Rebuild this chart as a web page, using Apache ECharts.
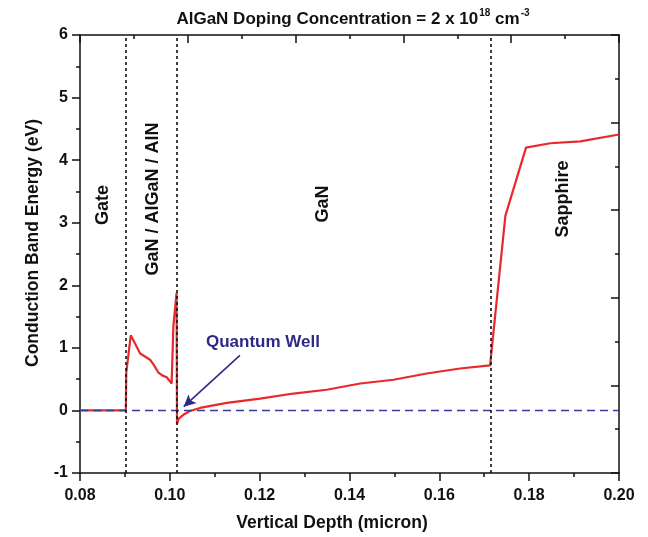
<!DOCTYPE html>
<html>
<head>
<meta charset="utf-8">
<script src="https://cdn.jsdelivr.net/npm/echarts@6/dist/echarts.min.js"></script>
<style>
  html, body { margin: 0; padding: 0; background: #fff; }
  #chart { width: 648px; height: 537px; }
</style>
</head>
<body>
<div id="chart"></div>
<script>
// Conduction band profile through the gate / barrier / GaN / sapphire stack
const depth = [0.0800, 0.0902, 0.0903, 0.0913, 0.0934, 0.0956, 0.0965, 0.0974, 0.0983, 0.0993, 0.1004,
               0.1008, 0.1015, 0.1016, 0.1020, 0.1030, 0.1045, 0.1067, 0.1127, 0.1201, 0.1275,
               0.1349, 0.1424, 0.1498, 0.1572, 0.1646, 0.1713, 0.1747, 0.1793, 0.1847, 0.1914, 0.2000];
const energy = [0.00, 0.00, 0.60, 1.20, 0.91, 0.81, 0.72, 0.61, 0.56, 0.53, 0.43,
                1.36, 1.88, -0.21, -0.13, -0.07, -0.01, 0.04, 0.12, 0.19, 0.27,
                0.33, 0.43, 0.49, 0.59, 0.67, 0.72, 3.11, 4.20, 4.27, 4.30, 4.41];

// Fermi level reference (E = 0)
const fermiDepth = [0.08, 0.20];
const fermiEnergy = [0, 0];

// Layer interfaces
const interfaceDepths = [0.0902, 0.1015, 0.1714];

// Layer names
const layerNames = ['Gate', 'GaN / AlGaN / AlN', 'GaN', 'Sapphire'];

// Arrow pointing at the quantum well: [depth, energy] start and end
const wellArrowFrom = [0.1156, 0.88];
const wellArrowTo = [0.1031, 0.06];

const xTicks = { min: 0.08, max: 0.20, interval: 0.02 };
const yTicks = { min: -1, max: 6, interval: 1 };

const FONT = '"Liberation Sans", Arial, sans-serif';
const AXIS_COLOR = '#111';
const WELL_COLOR = '#2f2a86';

const chart = echarts.init(document.getElementById('chart'), null, { renderer: 'canvas' });

const labelStyle = { color: AXIS_COLOR, fontFamily: FONT, fontWeight: 'bold', fontSize: 16 };

chart.setOption({
  animation: false,
  backgroundColor: '#fff',
  grid: { left: 80, right: 29, top: 35, bottom: 64, containLabel: false },
  xAxis: [
    {
      type: 'value', position: 'bottom',
      min: xTicks.min, max: xTicks.max, interval: xTicks.interval,
      axisLine: { show: true, onZero: false, lineStyle: { color: AXIS_COLOR, width: 1.5 } },
      axisTick: { show: true, inside: false, length: 8, lineStyle: { color: AXIS_COLOR, width: 1.5 } },
      minorTick: { show: true, splitNumber: 2, length: 4, lineStyle: { color: AXIS_COLOR, width: 1.5 } },
      splitLine: { show: false },
      axisLabel: Object.assign({ margin: 15, formatter: v => v.toFixed(2) }, labelStyle)
    },
    {
      type: 'value', position: 'top',
      min: 0, max: 10, interval: 2,
      axisLine: { show: true, onZero: false, lineStyle: { color: AXIS_COLOR, width: 1.5 } },
      axisTick: { show: true, inside: true, length: 8, lineStyle: { color: AXIS_COLOR, width: 1.5 } },
      minorTick: { show: true, splitNumber: 2, length: 4, lineStyle: { color: AXIS_COLOR, width: 1.5 } },
      splitLine: { show: false },
      axisLabel: { show: false }
    }
  ],
  yAxis: [
    {
      type: 'value', position: 'left',
      min: yTicks.min, max: yTicks.max, interval: yTicks.interval,
      axisLine: { show: true, onZero: false, lineStyle: { color: AXIS_COLOR, width: 1.5 } },
      axisTick: { show: true, inside: false, length: 8, lineStyle: { color: AXIS_COLOR, width: 1.5 } },
      minorTick: { show: true, splitNumber: 2, length: 4, lineStyle: { color: AXIS_COLOR, width: 1.5 } },
      splitLine: { show: false },
      axisLabel: Object.assign({ margin: 12 }, labelStyle)
    },
    {
      type: 'value', position: 'right',
      min: 0, max: 10, interval: 2,
      axisLine: { show: true, onZero: false, lineStyle: { color: AXIS_COLOR, width: 1.5 } },
      axisTick: { show: true, inside: true, length: 8, lineStyle: { color: AXIS_COLOR, width: 1.5 } },
      minorTick: { show: true, splitNumber: 2, length: 4, lineStyle: { color: AXIS_COLOR, width: 1.5 } },
      splitLine: { show: false },
      axisLabel: { show: false }
    }
  ],
  series: [
    {
      name: 'Conduction band',
      type: 'line',
      xAxisIndex: 0, yAxisIndex: 0,
      data: depth.map((d, i) => [d, energy[i]]),
      showSymbol: false,
      lineStyle: { color: '#e8282c', width: 2.2 },
      z: 3,
      markLine: {
        silent: true,
        precision: 4,
        symbol: ['none', 'none'],
        label: { show: false },
        lineStyle: { color: '#111', type: [3, 3], width: 1.6 },
        data: interfaceDepths.map(v => ({ xAxis: v }))
      }
    },
    {
      name: 'Fermi level',
      type: 'line',
      xAxisIndex: 0, yAxisIndex: 0,
      data: fermiDepth.map((d, i) => [d, fermiEnergy[i]]),
      showSymbol: false,
      lineStyle: { color: '#3a3a98', width: 1.6, type: [8, 5] },
      z: 4,
      markLine: {
        silent: true,
        precision: 4,
        symbol: ['none', 'arrow'],
        symbolSize: [9, 12],
        label: { show: false },
        lineStyle: { color: WELL_COLOR, type: 'solid', width: 1.6 },
        data: [[{ coord: wellArrowFrom }, { coord: wellArrowTo }]]
      }
    }
  ],
  graphic: [
    {
      type: 'text', x: 353, y: 8,
      style: {
        text: '{m|AlGaN Doping Concentration = 2 x 10}{s|18}{m| cm}{s|-3}',
        align: 'center',
        verticalAlign: 'top',
        rich: {
          m: { fontFamily: FONT, fontWeight: 'bold', fontSize: 17, fill: AXIS_COLOR, lineHeight: 22 },
          s: { fontFamily: FONT, fontWeight: 'bold', fontSize: 10, fill: AXIS_COLOR, lineHeight: 10, verticalAlign: 'top', padding: [0, 0, 0, 1] }
        }
      }
    },
    {
      type: 'text', x: 332, y: 523,
      style: { text: 'Vertical Depth (micron)', fontFamily: FONT, fontWeight: 'bold', fontSize: 17.5,
               fill: AXIS_COLOR, align: 'center', verticalAlign: 'middle' }
    },
    {
      type: 'text', x: 33, y: 243, rotation: Math.PI / 2,
      style: { text: 'Conduction Band Energy (eV)', fontFamily: FONT, fontWeight: 'bold', fontSize: 17.5,
               fill: AXIS_COLOR, align: 'center', verticalAlign: 'middle' }
    },
    {
      type: 'text', x: 103, y: 205, rotation: Math.PI / 2,
      style: { text: layerNames[0], fontFamily: FONT, fontWeight: 'bold', fontSize: 18,
               fill: AXIS_COLOR, align: 'center', verticalAlign: 'middle' }
    },
    {
      type: 'text', x: 153, y: 199, rotation: Math.PI / 2,
      style: { text: layerNames[1], fontFamily: FONT, fontWeight: 'bold', fontSize: 18,
               fill: AXIS_COLOR, align: 'center', verticalAlign: 'middle' }
    },
    {
      type: 'text', x: 323, y: 204, rotation: Math.PI / 2,
      style: { text: layerNames[2], fontFamily: FONT, fontWeight: 'bold', fontSize: 18,
               fill: AXIS_COLOR, align: 'center', verticalAlign: 'middle' }
    },
    {
      type: 'text', x: 563, y: 199, rotation: Math.PI / 2,
      style: { text: layerNames[3], fontFamily: FONT, fontWeight: 'bold', fontSize: 18,
               fill: AXIS_COLOR, align: 'center', verticalAlign: 'middle' }
    },
    {
      type: 'text', x: 263, y: 342,
      style: { text: 'Quantum Well', fontFamily: FONT, fontWeight: 'bold', fontSize: 17,
               fill: WELL_COLOR, align: 'center', verticalAlign: 'middle' }
    }
  ]
});
</script>
</body>
</html>
